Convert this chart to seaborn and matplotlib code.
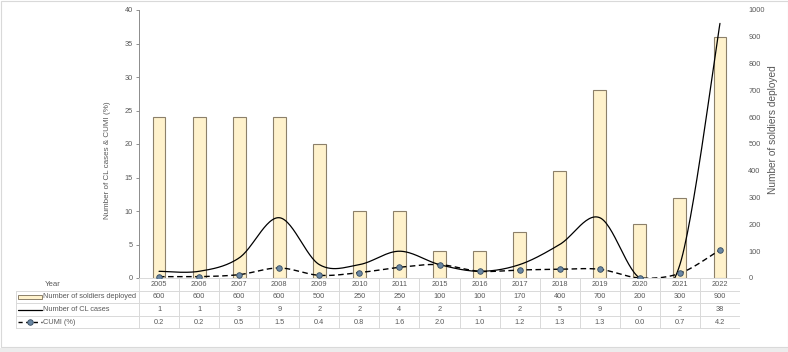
import numpy as np
import matplotlib
matplotlib.use('Agg')
import matplotlib.pyplot as plt
from matplotlib.patches import Rectangle
from matplotlib.lines import Line2D
import seaborn as sns

YEARS = ['2005', '2006', '2007', '2008', '2009', '2010', '2011', '2015',
         '2016', '2017', '2018', '2019', '2020', '2021', '2022']
SOLDIERS = [600, 600, 600, 600, 500, 250, 250, 100, 100, 170, 400, 700, 200, 300, 900]
CL_CASES = [1, 1, 3, 9, 2, 2, 4, 2, 1, 2, 5, 9, 0, 2, 38]
CUMI = [0.2, 0.2, 0.5, 1.5, 0.4, 0.8, 1.6, 2.0, 1.0, 1.2, 1.3, 1.3, 0.0, 0.7, 4.2]

ROW_NAMES = ['Number of soldiers deployed', 'Number of CL cases', 'CUMI (%)']

TXT = '#595959'
GRID = '#d9d9d9'
BAR_FILL = '#fff2cc'
BAR_EDGE = '#8c806a'
MARK_FILL = '#6a87a3'
MARK_EDGE = '#34495e'

sns.set_style('white')
plt.rcParams['font.family'] = ['Liberation Sans', 'DejaVu Sans']
FS = 5.3

W, H = 788, 352
fig = plt.figure(figsize=(W / 100, H / 100), dpi=100)


def smooth(xs, ys, n=30):
    # excel style smoothed line: bezier segments with catmull-rom control points
    pts = np.column_stack([xs, ys]).astype(float)
    p = np.vstack([pts[0], pts, pts[-1]])
    out = []
    for i in range(1, len(p) - 2):
        p0, p1, p2, p3 = p[i - 1], p[i], p[i + 1], p[i + 2]
        b1 = p1 + (p2 - p0) / 6
        b2 = p2 - (p3 - p1) / 6
        t = np.linspace(0, 1, n)[:, None]
        seg = ((1 - t) ** 3) * p1 + 3 * ((1 - t) ** 2) * t * b1 + 3 * (1 - t) * t ** 2 * b2 + t ** 3 * p2
        out.append(seg)
    out = np.vstack(out)
    return out[:, 0], out[:, 1]


left, right = 139 / W, 740 / W
bottom, top = 1 - 278 / H, 1 - 10 / H
ax = fig.add_axes([left, bottom, right - left, top - bottom])
ax2 = ax.twinx()
plot_w, plot_h = 740 - 139, 278 - 10

x = np.arange(len(YEARS))

# bars on the secondary axis
sns.barplot(x=x, y=SOLDIERS, ax=ax2, color=BAR_FILL, width=0.32,
            edgecolor=BAR_EDGE, linewidth=0.8, saturation=1, native_scale=True)
ax2.set_ylim(0, 1000)
ax2.set_yticks(np.arange(0, 1001, 100))
ax2.set_ylabel('Number of soldiers deployed', color=TXT, fontsize=7.3)
ax2.yaxis.set_label_coords((768 - 139) / plot_w, (278 - 130) / plot_h)
ax2.tick_params(axis='y', length=0, labelsize=FS, colors=TXT, pad=6)
for s in ax2.spines.values():
    s.set_visible(False)

# lines on the primary axis (both smoothed like the source)
sx, sy = smooth(x, CL_CASES)
ax.plot(sx, sy, color='black', lw=0.9)
cx, cy = smooth(x, CUMI)
ax.plot(cx, cy, color='black', lw=1.0, dashes=(4, 2.5))
sns.scatterplot(x=x, y=CUMI, ax=ax, s=16, color=MARK_FILL, edgecolor=MARK_EDGE,
                linewidth=0.6, zorder=5)
ax.set_zorder(ax2.get_zorder() + 1)
ax.patch.set_visible(False)

ax.set_xlim(-0.5, len(YEARS) - 0.5)
ax2.set_xlim(-0.5, len(YEARS) - 0.5)
ax.set_ylim(0, 40)
ax.set_yticks(np.arange(0, 41, 5))
ax.set_ylabel('Number of CL cases & CUMI (%)', color=TXT, fontsize=5.8)
ax.yaxis.set_label_coords((111 - 139) / plot_w, (278 - 160) / plot_h)
ax.tick_params(axis='y', length=2.5, width=0.6, color='#7f7f7f', labelsize=FS, colors=TXT, pad=2)
ax.set_xticks([])
ax2.set_xticks([])
ax.set_xlabel('')
ax2.set_xlabel('')
for s in ['top', 'right']:
    ax.spines[s].set_visible(False)
ax.spines['left'].set_color('#8c8c8c')
ax.spines['left'].set_linewidth(0.7)
ax.spines['bottom'].set_color(GRID)
ax.spines['bottom'].set_linewidth(0.7)

# data table below the plot
t_left, t_right = 16 / W, 740 / W
t_top, t_bot = 1 - 278 / H, 1 - 328.5 / H
tab = fig.add_axes([t_left, t_bot, t_right - t_left, t_top - t_bot])
col_w = plot_w / len(YEARS)
head = (139 - 16) / col_w
tab.set_xlim(-0.5 - head, len(YEARS) - 0.5)
tab.set_ylim(50.5, 0)
tab.axis('off')

rows_y = [6.5, 19, 31.5, 44]
tab.text(-0.5 - head + 0.72, rows_y[0], 'Year', fontsize=FS + 0.3, color=TXT, va='center')
for i, yr in enumerate(YEARS):
    tab.text(i, rows_y[0], yr, fontsize=FS, color=TXT, ha='center', va='center')
    tab.text(i, rows_y[1], f'{SOLDIERS[i]}', fontsize=FS, color=TXT, ha='center', va='center')
    tab.text(i, rows_y[2], f'{CL_CASES[i]}', fontsize=FS, color=TXT, ha='center', va='center')
    tab.text(i, rows_y[3], f'{CUMI[i]:.1f}', fontsize=FS, color=TXT, ha='center', va='center')

for k, name in enumerate(ROW_NAMES):
    tab.text(-0.5 - head + 0.68, rows_y[k + 1], name, fontsize=FS, color=TXT, va='center')

# legend keys in header cells
kx0 = -0.5 - head + 0.05
kx1 = -0.5 - head + 0.64
tab.add_patch(Rectangle((kx0, rows_y[1] - 1.8), kx1 - kx0, 3.6, facecolor=BAR_FILL,
                        edgecolor=BAR_EDGE, lw=0.7))
tab.add_line(Line2D([kx0, kx1], [rows_y[2], rows_y[2]], color='black', lw=0.9))
tab.add_line(Line2D([kx0, kx1], [rows_y[3], rows_y[3]], color='black', lw=1.0,
                    dashes=(3, 2.5)))
tab.plot([(kx0 + kx1) / 2], [rows_y[3]], marker='o', markersize=4,
         markerfacecolor=MARK_FILL, markeredgecolor=MARK_EDGE, markeredgewidth=0.6)

for yy in [12.5, 25, 37.5, 50]:
    tab.add_line(Line2D([-0.5 - head, len(YEARS) - 0.5], [yy, yy], color=GRID, lw=0.7))
tab.add_line(Line2D([-0.5 - head] * 2, [12.5, 50], color=GRID, lw=0.7))
for b in np.arange(len(YEARS) + 1) - 0.5:
    tab.add_line(Line2D([b, b], [0, 50], color=GRID, lw=0.7))

# outer chart border
fig.add_artist(Rectangle((0.5 / W, 5 / H), 1 - 1 / W, 1 - 5.5 / H, transform=fig.transFigure,
                         fill=False, edgecolor=GRID, lw=0.8))
fig.add_artist(Rectangle((0, 0), 1, 4 / H, transform=fig.transFigure,
                         facecolor='#ececec', edgecolor='none'))

fig.savefig('out.png', dpi=100)
